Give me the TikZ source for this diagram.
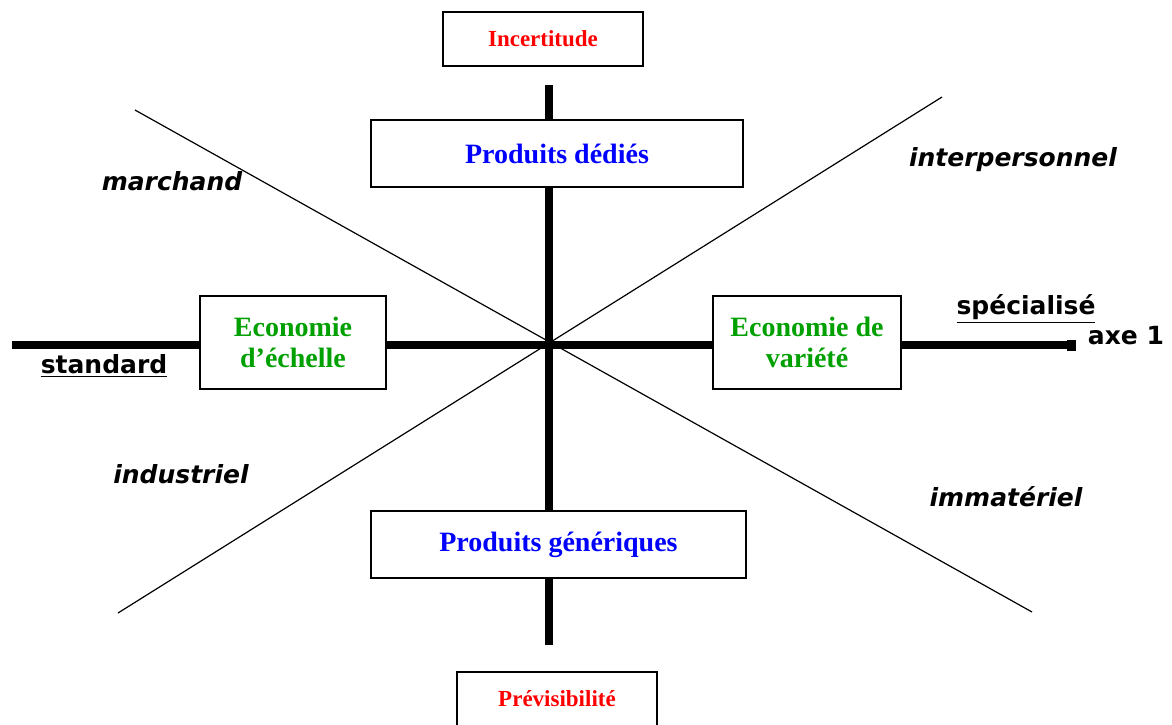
\documentclass[tikz,border=0pt]{standalone}
\usepackage{fontspec}
\setmainfont{Liberation Serif}
\newfontfamily\labelfont{DejaVu Sans}
\usepackage{tikz}

\definecolor{polered}{RGB}{255,0,0}
\definecolor{prodblue}{RGB}{0,0,255}
\definecolor{ecogreen}{RGB}{0,160,0}

\begin{document}
\begin{tikzpicture}[x=0.5pt,y=-0.5pt]
	\tikzset{box/.style={draw, line width=0.8pt, fill=white, inner sep=0pt, align=center, font=\bfseries\fontsize{14}{15.5}\selectfont}}
	\tikzset{pole/.style={box, text=polered, minimum width=100pt, minimum height=27pt, font=\bfseries\fontsize{11.5}{13}\selectfont}}
	\tikzset{axis/.style={line width=3.6pt}}
	\tikzset{diag/.style={line width=0.6pt}}
	\tikzset{sector/.style={font=\labelfont\bfseries\itshape\fontsize{12.5}{14}\selectfont}}
	\tikzset{axislabel/.style={font=\labelfont\bfseries\fontsize{12.5}{14}\selectfont}}
	\clip (0,0) rectangle (1172,724);
	%axis ends
	\coordinate (top) at (549,85);
	\coordinate (bottom) at (549,645);
	\coordinate (left) at (12,345);
	\coordinate (right) at (1072,345);
	\coordinate (nw) at (135,110);
	\coordinate (se) at (1032,612);
	\coordinate (sw) at (118,613);
	\coordinate (ne) at (942,97);
	%diagonals
	\draw[diag] (nw) -- (se);
	\draw[diag] (sw) -- (ne);
	%axes
	\draw[axis, line width=4pt] (top) -- (bottom);
	\draw[axis] (left) -- (right);
	\fill (1067,340) rectangle (1076,351);
	%boxes
	\node[pole] (incert) at (543,39) {Incertitude};
	\node[pole] (previs) at (557,699) {Prévisibilité};
	\node[box, text=prodblue, minimum width=186pt, minimum height=33.5pt] (dedies) at (557,153.5) {Produits dédiés};
	\node[box, text=prodblue, minimum width=187.5pt, minimum height=33.5pt] (generiques) at (558.5,544.5) {Produits génériques};
	\node[box, text=ecogreen, minimum width=93pt, minimum height=46.5pt] (echelle) at (293,342.5) {Economie\\d’échelle};
	\node[box, text=ecogreen, minimum width=94pt, minimum height=46.5pt] (variete) at (807,342.5) {Economie de\\variété};
	%labels
	\node[sector] (marchand) at (172,181) {marchand};
	\node[sector] (interpers) at (1013,160) {interpersonnel};
	\node[sector] (industriel) at (181,474) {industriel};
	\node[sector] (immateriel) at (1006,497) {immatériel};
	\node[axislabel] (standard) at (104,366) {\underline{standard}};
	\node[axislabel] (specialise) at (1026,309) {\underline{spécialisé}};
	\node[axislabel] (axe) at (1126,336) {axe 1};
\end{tikzpicture}
\end{document}
